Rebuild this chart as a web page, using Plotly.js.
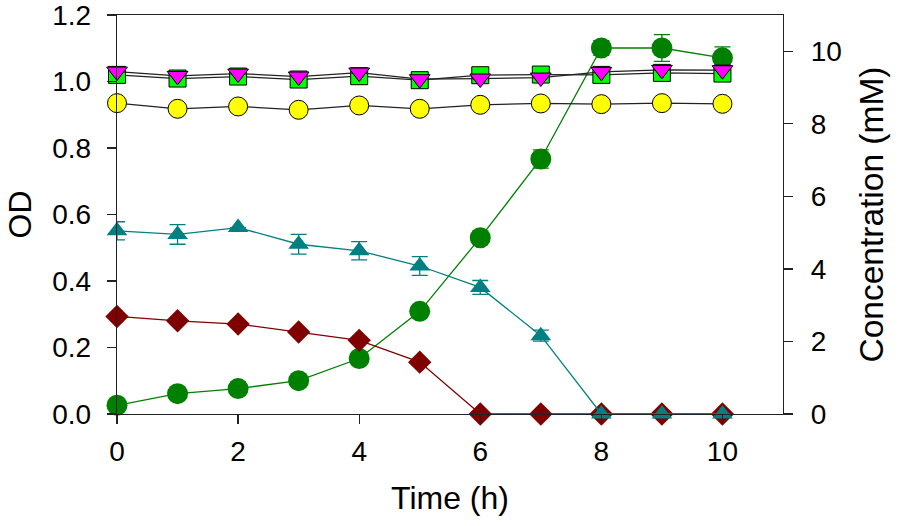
<!DOCTYPE html>
<html>
<head>
<meta charset="utf-8">
<script src="https://cdn.plot.ly/plotly-3.0.1.min.js"></script>
<style>
html,body{margin:0;padding:0;background:#fff;}
#chart{width:898px;height:526px;}
</style>
</head>
<body>
<div id="chart"></div>
<script>
// Time points (h)
const time = [0, 1, 2, 3, 4, 5, 6, 7, 8, 9, 10];

// OD series (left axis)
const odYellow   = [0.935, 0.918, 0.925, 0.915, 0.928, 0.918, 0.930, 0.934, 0.932, 0.935, 0.933];
const odSquare   = [1.020, 1.009, 1.015, 1.006, 1.016, 1.004, 1.019, 1.021, 1.020, 1.026, 1.024];
const odTriangle = [1.030, 1.017, 1.024, 1.015, 1.027, 1.007, 1.009, 1.012, 1.029, 1.035, 1.034];

// Concentration series (right axis, mM)
const concCircle    = [0.24, 0.56, 0.70, 0.92, 1.53, 2.83, 4.86, 7.03, 10.09, 10.09, 9.82];
const concCircleErr = [0, 0, 0, 0, 0, 0, 0.15, 0.25, 0.2, 0.37, 0.3];
const concTriangle    = [5.05, 4.95, 5.14, 4.68, 4.50, 4.08, 3.49, 2.16, 0, 0, 0];
const concTriangleErr = [0.25, 0.27, 0, 0.27, 0.25, 0.26, 0.19, 0.15, 0, 0, 0];
const concDiamond = [2.69, 2.57, 2.48, 2.26, 2.03, 1.43, 0, 0, 0, 0, 0];

// Tick labels
const xTicks = [0, 2, 4, 6, 8, 10];
const odTicks = [0, 0.2, 0.4, 0.6, 0.8, 1.0, 1.2];
const concTicks = [0, 2, 4, 6, 8, 10];

const FONT = 'Liberation Sans, Arial, sans-serif';
const AX = '#222';

const traces = [
  {x: time, y: concCircle, yaxis: 'y', type: 'scatter', mode: 'lines+markers', cliponaxis: false,
   line: {color: '#008000', width: 1.3},
   marker: {symbol: 'circle', size: 21, color: '#008000'},
   error_y: {type: 'data', array: concCircleErr, visible: true, color: '#008000', thickness: 1.3, width: 8}},
  {x: time, y: concDiamond, yaxis: 'y', type: 'scatter', mode: 'lines+markers', cliponaxis: false,
   line: {color: '#800000', width: 1.3},
   marker: {symbol: 'diamond', size: 18, color: '#800000'}},
  {x: time, y: concTriangle, yaxis: 'y', type: 'scatter', mode: 'lines+markers', cliponaxis: false,
   line: {color: '#008080', width: 1.3},
   marker: {symbol: 'triangle-up', size: 18, color: '#008080'},
   error_y: {type: 'data', array: concTriangleErr, visible: true, color: '#008080', thickness: 1.3, width: 8}},
  {x: time, y: odYellow, yaxis: 'y2', type: 'scatter', mode: 'lines+markers', cliponaxis: false,
   line: {color: '#222', width: 1.2},
   marker: {symbol: 'circle', size: 19, color: '#ffff00', line: {color: '#000', width: 1}}},
  {x: time, y: odSquare, yaxis: 'y2', type: 'scatter', mode: 'lines+markers', cliponaxis: false,
   line: {color: '#222', width: 1.2},
   marker: {symbol: 'square', size: 17, color: '#00ff00', line: {color: '#000', width: 1}}},
  {x: time, y: odTriangle, yaxis: 'y2', type: 'scatter', mode: 'lines+markers', cliponaxis: false,
   line: {color: '#222', width: 1.2},
   marker: {symbol: 'triangle-down', size: 18, color: '#ff00ff', line: {color: '#000', width: 1}}}
];

const layout = {
  width: 898, height: 526,
  margin: {l: 117, r: 115, t: 15, b: 112, pad: 0},
  paper_bgcolor: '#fff', plot_bgcolor: '#fff',
  showlegend: false,
  font: {family: FONT, color: '#000', size: 28},
  xaxis: {
    range: [0, 11], tickvals: xTicks, ticktext: xTicks.map(String),
    showline: true, linecolor: AX, linewidth: 1.2, mirror: true,
    ticks: 'outside', ticklen: 9, tickwidth: 1.2, tickcolor: AX,
    showgrid: false, zeroline: false, ticklabeloverflow: 'allow',
    tickfont: {size: 28, family: FONT}, ticklabelstandoff: 3,
    title: {text: 'Time (h)', font: {size: 32, family: FONT}, standoff: 20}
  },
  yaxis: {
    side: 'right', range: [0, 11], tickvals: concTicks, ticktext: concTicks.map(String),
    showline: true, linecolor: AX, linewidth: 1.2,
    ticks: 'outside', ticklen: 9, tickwidth: 1.2, tickcolor: AX,
    showgrid: false, zeroline: false, ticklabeloverflow: 'allow',
    tickfont: {size: 28, family: FONT}, ticklabelstandoff: 12,
    title: {text: 'Concentration (mM)', font: {size: 33.5, family: FONT}, standoff: 18}
  },
  yaxis2: {
    side: 'left', overlaying: 'y', range: [0, 1.2001], tickvals: odTicks, ticktext: odTicks.map(v => v.toFixed(1)),
    showline: true, linecolor: AX, linewidth: 1.2,
    ticks: 'outside', ticklen: 9, tickwidth: 1.2, tickcolor: AX,
    showgrid: false, zeroline: false, ticklabeloverflow: 'allow',
    tickfont: {size: 28, family: FONT}, ticklabelstandoff: 10,
    title: {text: 'OD', font: {size: 32, family: FONT}, standoff: 11}
  }
};

Plotly.newPlot('chart', traces, layout, {staticPlot: true, displayModeBar: false});
</script>
</body>
</html>
